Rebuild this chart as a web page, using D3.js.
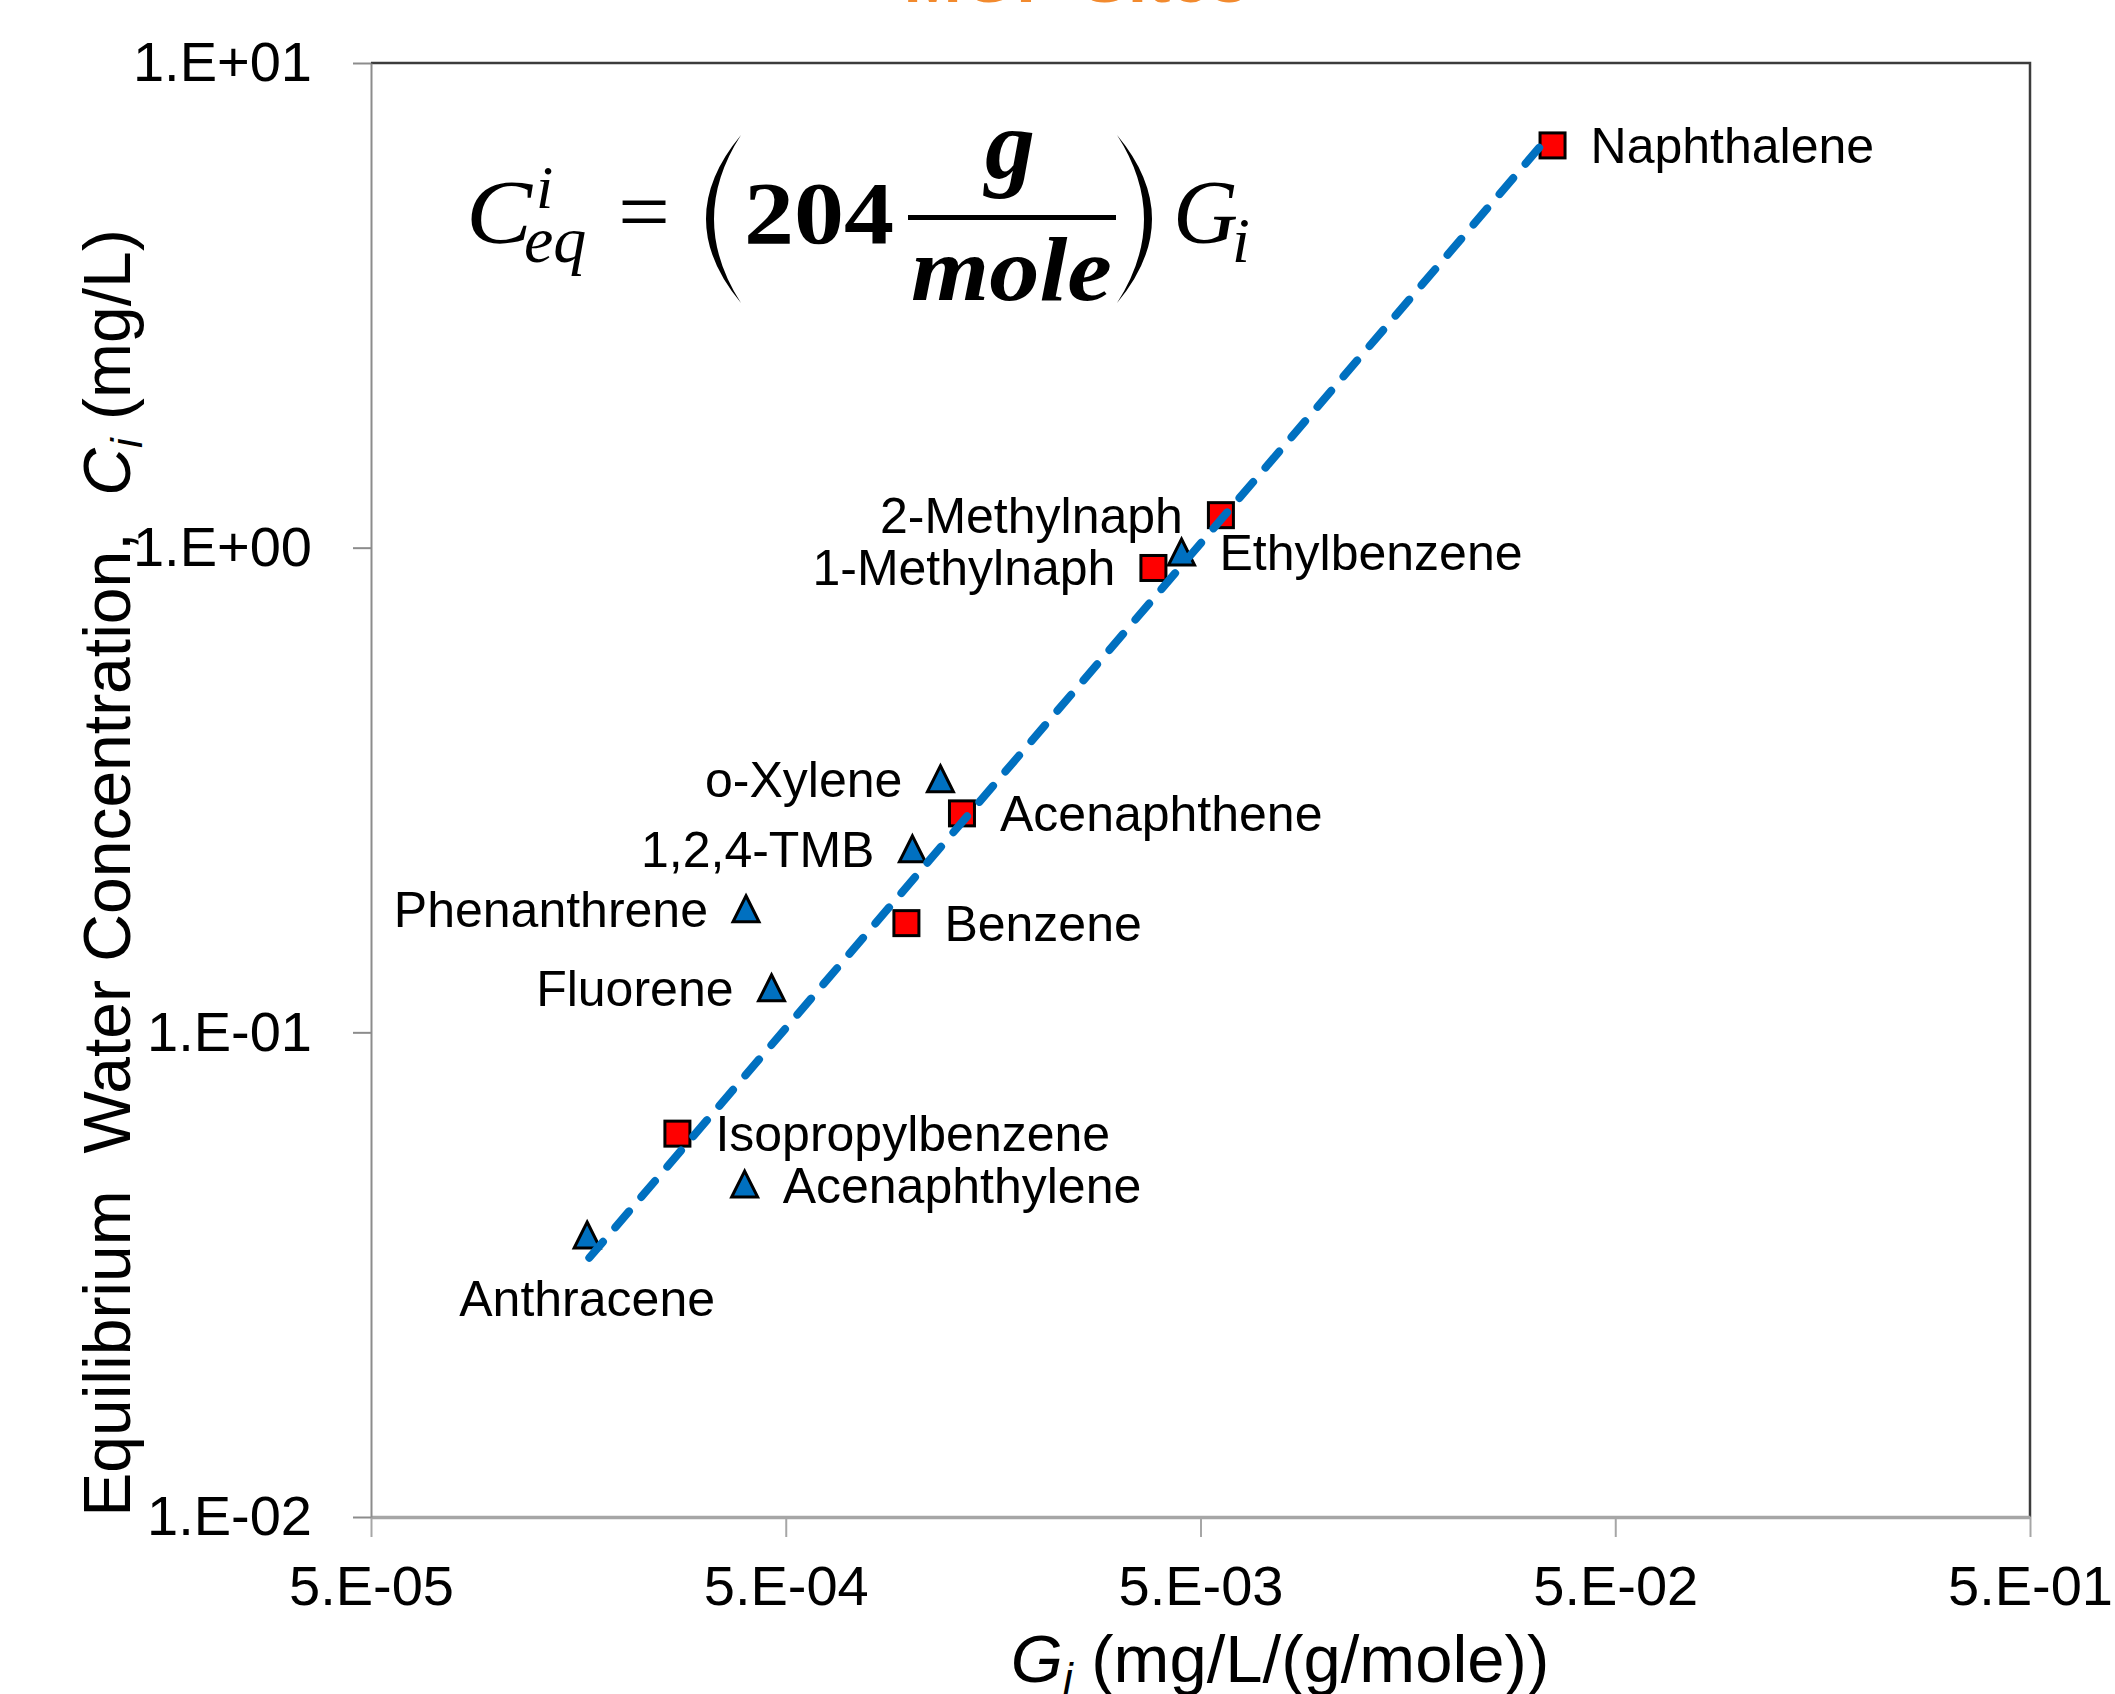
<!DOCTYPE html>
<html>
<head>
<meta charset="utf-8">
<script src="https://cdn.jsdelivr.net/npm/d3@7"></script>
<style>
  body { margin: 0; background: #fff; }
  svg text { font-family: "Liberation Sans", Arial, sans-serif; white-space: pre; }
  .eq { font-family: "Liberation Serif", "Times New Roman", serif; }
</style>
</head>
<body>
<div id="chart"></div>
<script>
// series 1 (red squares)
var squareNames = ["Naphthalene", "2-Methylnaph", "1-Methylnaph", "Acenaphthene", "Benzene", "Isopropylbenzene"];
var squareG = [0.0353, 0.0056, 0.00385, 0.00133, 0.000977, 0.000274];
var squareC = [6.76, 1.167, 0.908, 0.283, 0.168, 0.0618];

// series 2 (blue triangles)
var triangleNames = ["Ethylbenzene", "o-Xylene", "1,2,4-TMB", "Phenanthrene", "Fluorene", "Acenaphthylene", "Anthracene"];
var triangleG = [0.0045, 0.00118, 0.00101, 0.000401, 0.000462, 0.000398, 0.000166];
var triangleC = [0.975, 0.332, 0.238, 0.179, 0.123, 0.0484, 0.0380];

// fitted line  C = 204 * G
var fitCoef = 204;
var fitRange = [0.000168, 0.0334];

var xTicks = [5e-5, 5e-4, 5e-3, 5e-2, 5e-1];
var yTicks = [0.01, 0.1, 1, 10];

// label placement (Excel data label positions)
var squareSide = ["right", "left", "left", "right", "right", "right"];
var triangleSide = ["right", "left", "left", "left", "left", "right", "below"];

var W = 2115, H = 1694;
var plot = {left: 371, right: 2030, top: 63, bottom: 1517};

var svg = d3.select("#chart").append("svg")
    .attr("width", W)
    .attr("height", H);

var x = d3.scaleLog().domain([5e-5, 5e-1]).range([plot.left, plot.right]);
var y = d3.scaleLog().domain([0.01, 10]).range([plot.bottom, plot.top]);

function sciFmt(d) {
    var e = Math.floor(Math.log10(d) + 1e-9);
    var m = Math.round(d / Math.pow(10, e));
    return m + ".E" + (e < 0 ? "-" : "+") + String(Math.abs(e)).padStart(2, "0");
}

// cut-off orange heading at the very top
svg.append("text")
    .attr("x", 1076).attr("y", 2)
    .attr("text-anchor", "middle")
    .style("font-size", "70px").style("font-weight", "bold")
    .style("fill", "#F28A2E")
    .text("MGP Sites");

// top and right frame
svg.append("path")
    .attr("d", "M" + plot.left + "," + plot.top + "H" + plot.right + "V" + plot.bottom)
    .attr("fill", "none").attr("stroke", "#3c3c3c").attr("stroke-width", 2.5);

// axes
var xAxis = svg.append("g")
    .attr("transform", "translate(0," + plot.bottom + ")")
    .call(d3.axisBottom(x).tickValues(xTicks).tickFormat(sciFmt).tickSize(20).tickSizeOuter(0).tickPadding(28));
xAxis.select(".domain").attr("stroke", "#a6a6a6").attr("stroke-width", 3.5);
xAxis.selectAll(".tick line").attr("stroke", "#a6a6a6").attr("stroke-width", 2);
xAxis.selectAll(".tick text").style("font-size", "56px").attr("fill", "#000")
    .style("font-family", "'Liberation Sans', Arial, sans-serif");

var yAxis = svg.append("g")
    .attr("transform", "translate(" + plot.left + ",0)")
    .call(d3.axisLeft(y).tickValues(yTicks).tickFormat(sciFmt).tickSize(18).tickSizeOuter(0).tickPadding(41));
yAxis.select(".domain").attr("stroke", "#8c8c8c").attr("stroke-width", 2);
yAxis.selectAll(".tick line").attr("stroke", "#8c8c8c").attr("stroke-width", 2);
yAxis.selectAll(".tick text").style("font-size", "56px").attr("fill", "#000")
    .style("font-family", "'Liberation Sans', Arial, sans-serif");

// axis titles
var xt = svg.append("text")
    .attr("x", 1280).attr("y", 1682)
    .attr("text-anchor", "middle")
    .style("font-size", "67px");
xt.append("tspan").style("font-style", "italic").text("G");
xt.append("tspan").style("font-style", "italic").style("font-size", "44px").attr("dy", "12").text("i");
xt.append("tspan").attr("dy", "-12").text(" (mg/L/(g/mole))");

var yt = svg.append("text")
    .attr("transform", "translate(130,873) rotate(-90)")
    .attr("text-anchor", "middle")
    .style("font-size", "66px");
yt.append("tspan").text("Equilibrium  Water Concentration,  ");
yt.append("tspan").style("font-style", "italic").text("C");
yt.append("tspan").style("font-style", "italic").style("font-size", "44px").attr("dy", "12").text("i");
yt.append("tspan").attr("dy", "-12").text(" (mg/L)");

// equation
var eq = svg.append("g").attr("class", "eq");
eq.append("text").attr("class", "eq").attr("x", 466).attr("y", 243)
    .style("font-size", "92px").style("font-style", "italic")
    .attr("textLength", 66).attr("lengthAdjust", "spacingAndGlyphs").text("C");
eq.append("text").attr("class", "eq").attr("x", 536).attr("y", 208)
    .style("font-size", "62px").style("font-style", "italic").text("i");
eq.append("text").attr("class", "eq").attr("x", 524).attr("y", 262)
    .style("font-size", "66px").style("font-style", "italic").text("eq");
eq.append("text").attr("class", "eq").attr("x", 618).attr("y", 241)
    .style("font-size", "88px").attr("textLength", 52).attr("lengthAdjust", "spacingAndGlyphs").text("=");
eq.append("path").attr("d", "M741,135 Q671,219 741,303 Q687,219 741,135 Z").attr("fill", "#000");
eq.append("text").attr("class", "eq").attr("x", 744).attr("y", 243)
    .style("font-size", "88px").style("font-weight", "bold")
    .attr("textLength", 150).attr("lengthAdjust", "spacingAndGlyphs").text("204");
eq.append("rect").attr("x", 908).attr("y", 215).attr("width", 208).attr("height", 5).attr("fill", "#000");
eq.append("text").attr("class", "eq").attr("x", 1010).attr("y", 178)
    .attr("text-anchor", "middle")
    .style("font-size", "100px").style("font-weight", "bold").style("font-style", "italic").text("g");
eq.append("text").attr("class", "eq").attr("x", 911).attr("y", 300)
    .style("font-size", "90px").style("font-weight", "bold").style("font-style", "italic")
    .attr("textLength", 201).attr("lengthAdjust", "spacingAndGlyphs").text("mole");
eq.append("path").attr("d", "M1117,135 Q1187,219 1117,303 Q1171,219 1117,135 Z").attr("fill", "#000");
eq.append("text").attr("class", "eq").attr("x", 1173).attr("y", 243)
    .style("font-size", "90px").style("font-style", "italic").text("G");
eq.append("text").attr("class", "eq").attr("x", 1232).attr("y", 262)
    .style("font-size", "64px").style("font-style", "italic").text("i");

// data
var squares = squareNames.map(function(n, i) {
    return {name: n, g: squareG[i], c: squareC[i], side: squareSide[i]};
});
var triangles = triangleNames.map(function(n, i) {
    return {name: n, g: triangleG[i], c: triangleC[i], side: triangleSide[i]};
});

svg.selectAll("rect.sq")
    .data(squares)
    .enter().append("rect")
    .attr("class", "sq")
    .attr("x", function(d) { return x(d.g) - 12.5; })
    .attr("y", function(d) { return y(d.c) - 12.5; })
    .attr("width", 25).attr("height", 25)
    .attr("fill", "#ff0000").attr("stroke", "#000").attr("stroke-width", 3);

svg.selectAll("path.tri")
    .data(triangles)
    .enter().append("path")
    .attr("class", "tri")
    .attr("transform", function(d) { return "translate(" + x(d.g) + "," + y(d.c) + ")"; })
    .attr("d", "M0,-14L13,12L-13,12Z")
    .attr("fill", "#0070c0").attr("stroke", "#000").attr("stroke-width", 3)
    .attr("stroke-linejoin", "miter");

// trend line on top
var fitLine = d3.line()
    .x(function(d) { return x(d); })
    .y(function(d) { return y(fitCoef * d); });
svg.append("path")
    .datum(fitRange)
    .attr("d", fitLine)
    .attr("fill", "none")
    .attr("stroke", "#0070c0")
    .attr("stroke-width", 8)
    .attr("stroke-linecap", "round")
    .attr("stroke-dasharray", "21,19");

// labels
var all = squares.concat(triangles);
svg.selectAll("text.lbl")
    .data(all)
    .enter().append("text")
    .attr("class", "lbl")
    .attr("x", function(d) {
        if (d.side === "right") return x(d.g) + 38;
        if (d.side === "left") return x(d.g) - 38;
        return x(d.g);
    })
    .attr("y", function(d) { return d.side === "below" ? y(d.c) + 63 : y(d.c); })
    .attr("dy", "0.35em")
    .attr("text-anchor", function(d) {
        return d.side === "right" ? "start" : (d.side === "left" ? "end" : "middle");
    })
    .style("font-size", "50px")
    .attr("fill", "#000")
    .text(function(d) { return d.name; });
</script>
</body>
</html>
